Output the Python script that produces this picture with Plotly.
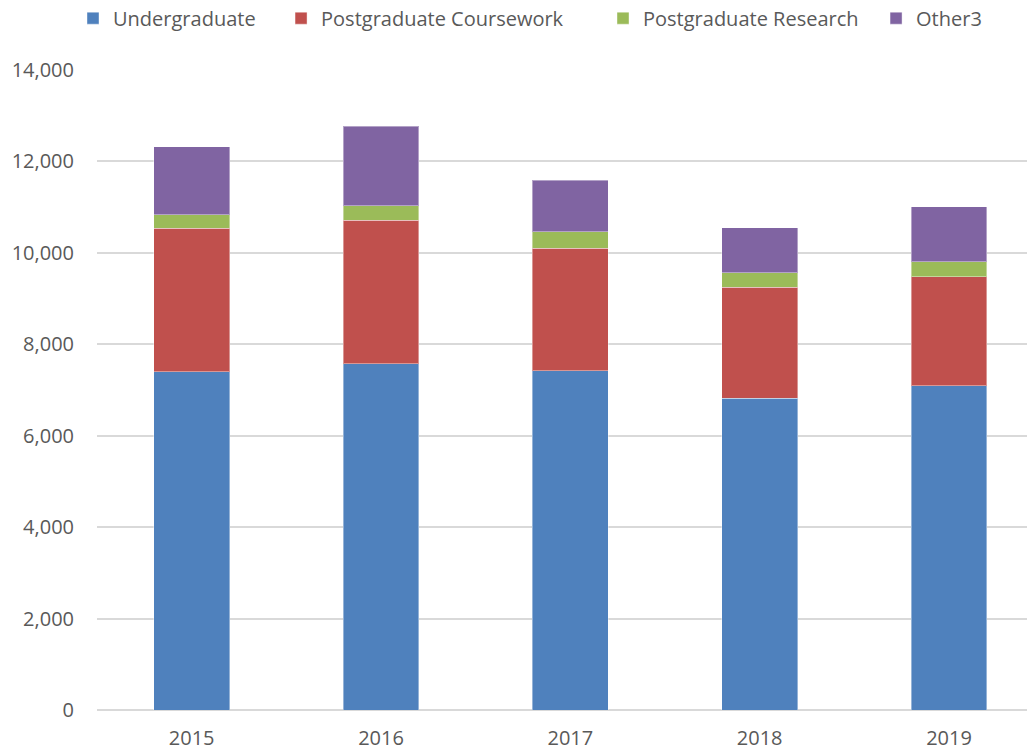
import plotly.graph_objects as go

years = ["2015", "2016", "2017", "2018", "2019"]
undergraduate = [7395, 7571, 7417, 6818, 7089]
pg_coursework = [3146, 3145, 2686, 2431, 2387]
pg_research = [293, 315, 359, 321, 335]
other3 = [1489, 1737, 1123, 979, 1198]

series = [
    ("Undergraduate", undergraduate, "#4f81bd"),
    ("Postgraduate Coursework", pg_coursework, "#c0504d"),
    ("Postgraduate Research", pg_research, "#9bbb59"),
    ("Other3", other3, "#8064a2"),
]
legend_x = [-0.0258, 0.1979, 0.5441, 0.8377]
legend_w = [160, 265, 235, 80]

font_family = "Open Sans, sans-serif"

fig = go.Figure()
legend_layout = {}
for i, (name, vals, col) in enumerate(series):
    lname = "legend" if i == 0 else f"legend{i + 1}"
    fig.add_trace(go.Bar(
        x=years, y=vals, name=name, legend=lname,
        marker=dict(color=col, line=dict(color="rgba(255,255,255,0.4)", width=1)),
    ))
    legend_layout[lname] = dict(
        orientation="h", x=legend_x[i], xanchor="left", y=1.081, yanchor="middle",
        font=dict(size=20, color="#595959"), itemwidth=30,
        entrywidth=legend_w[i], entrywidthmode="pixels",
        bgcolor="rgba(0,0,0,0)",
    )

fig.update_layout(
    barmode="stack",
    bargap=0.6,
    width=1027, height=753,
    margin=dict(l=97, r=0, t=70, b=43, autoexpand=False),
    paper_bgcolor="white",
    plot_bgcolor="white",
    font=dict(family=font_family, size=20, color="#595959"),
    showlegend=True,
    **legend_layout,
)

fig.update_xaxes(
    range=[-0.5, 4.412],
    showgrid=False,
    showline=False,
    ticks="",
    automargin=False,
    ticklabelstandoff=14,
    tickfont=dict(size=20, color="#595959"),
)
fig.update_yaxes(
    range=[0, 14000],
    dtick=2000,
    tickformat=",d",
    showgrid=True,
    gridcolor="#d9d9d9",
    gridwidth=1.8,
    zeroline=True,
    zerolinecolor="#d9d9d9",
    zerolinewidth=1.8,
    showline=False,
    ticks="",
    automargin=False,
    ticklabelstandoff=22,
    tickfont=dict(size=20, color="#595959"),
)

fig.write_html(
    "out.html",
    config={"displayModeBar": False},
    post_script="document.body.style.margin='0';document.body.style.overflow='hidden';",
)
